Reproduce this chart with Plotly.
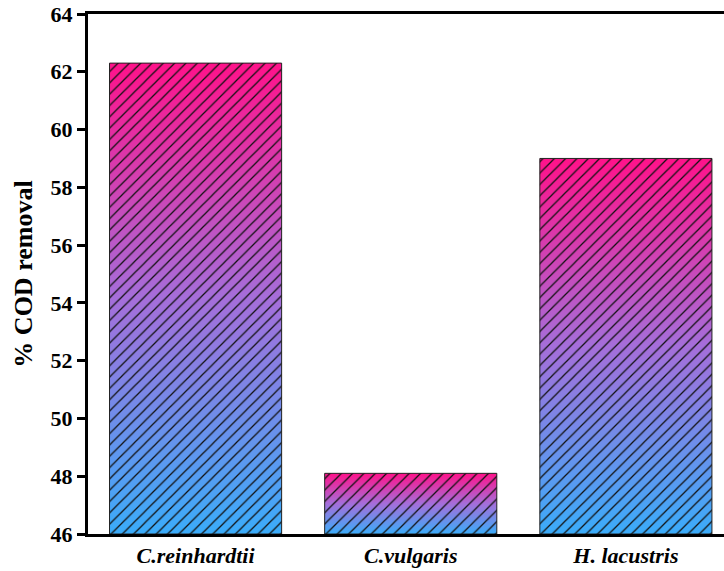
import plotly.graph_objects as go

categories = ["C.reinhardtii", "C.vulgaris", "H. lacustris"]
cod_removal = [62.3, 48.1, 59.0]
y_ticks = [46, 48, 50, 52, 54, 56, 58, 60, 62, 64]

BASE = 46
BAR_W = 0.8
PINK = "rgb(255,18,138)"
MID = "rgb(165,110,218)"
BLUE = "rgb(58,172,250)"
FONT = "Liberation Serif"

fig = go.Figure()

# gradient fills (per-bar, bottom blue -> top pink)
for i, v in enumerate(cod_removal):
    x0, x1 = i - BAR_W / 2, i + BAR_W / 2
    fig.add_trace(go.Scatter(
        x=[x0, x1, x1, x0, x0],
        y=[BASE, BASE, v, v, BASE],
        mode="lines",
        line=dict(width=0),
        fill="toself",
        fillgradient=dict(type="vertical",
                          colorscale=[[0, BLUE], [0.5, MID], [1, PINK]]),
        hoverinfo="skip",
        showlegend=False,
    ))

# hatch overlay + outline
for i, v in enumerate(cod_removal):
    x0, x1 = i - BAR_W / 2, i + BAR_W / 2
    fig.add_trace(go.Scatter(
        x=[x0, x1, x1, x0, x0],
        y=[BASE, BASE, v, v, BASE],
        mode="lines",
        line=dict(width=1, color="#222"),
        fill="toself",
        fillcolor="rgba(0,0,0,0)",
        fillpattern=dict(shape="/", fgcolor="#111", bgcolor="rgba(0,0,0,0)",
                         size=8, solidity=0.16, fillmode="replace"),
        hoverinfo="skip",
        showlegend=False,
    ))

fig.update_layout(
    width=724, height=571,
    margin=dict(l=88, r=0, t=14, b=37),
    paper_bgcolor="white", plot_bgcolor="white",
    font=dict(family=FONT, color="black"),
    hovermode=False,
)

fig.update_xaxes(
    range=[-0.5, 2.456],
    tickvals=list(range(len(categories))),
    ticktext=[f"<i>{c}</i>" for c in categories],
    tickfont=dict(family=FONT, size=22, weight="bold"),
    showline=True, linecolor="black", linewidth=3, mirror=True,
    ticks="", showgrid=False, zeroline=False,
)

fig.update_yaxes(
    range=[46, 64],
    tickvals=y_ticks,
    tickfont=dict(family=FONT, size=22, weight="bold"),
    showline=True, linecolor="black", linewidth=3,
    ticks="outside", ticklen=8, tickwidth=3, tickcolor="black",
    showgrid=False, zeroline=False,
    title=dict(text="% COD removal", font=dict(family=FONT, size=26, weight="bold"),
               standoff=11),
)

fig.write_html("out.html",
               config={"displayModeBar": False},
               post_script="document.body.style.margin='0';document.body.style.overflow='hidden';")
